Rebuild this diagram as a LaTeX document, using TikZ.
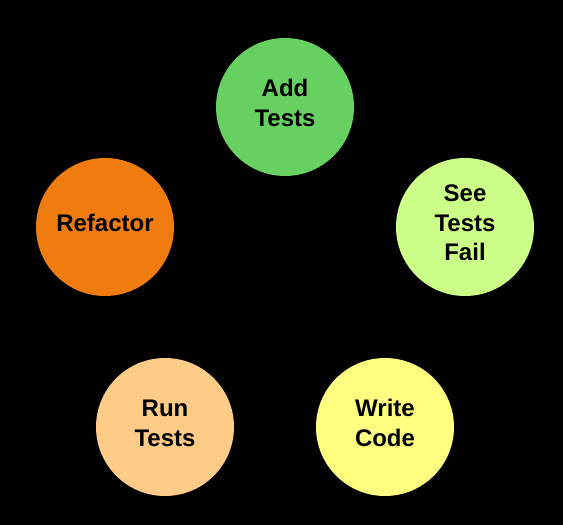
\documentclass[tikz,border=0pt]{standalone}
\usepackage{fontspec}
\setmainfont{Liberation Sans}
\usepackage{xcolor}
\definecolor{stepGreen}{HTML}{66D060}
\definecolor{stepLime}{HTML}{CCFF88}
\definecolor{stepYellow}{HTML}{FFFF80}
\definecolor{stepPeach}{HTML}{FFCC88}
\definecolor{stepOrange}{HTML}{F07C10}
\usepackage{tikz}

\begin{document}
\begin{tikzpicture}[
    x=1pt, y=-1pt,
    stage/.style ={circle, minimum size=138pt, inner sep=0pt,
                   align=center, text=black, text depth=8pt,
                   font=\fontsize{24}{29.5}\selectfont\bfseries}
]
\fill[black] (0,0) rectangle (563,525);
\useasboundingbox (0,0) rectangle (563,525);

\node[stage, fill=stepGreen]  (addtests) at (285,107) {Add\\Tests};
\node[stage, fill=stepLime]   (seefail)  at (465,227) {See\\Tests\\Fail};
\node[stage, fill=stepYellow] (write)    at (385,427) {Write\\Code};
\node[stage, fill=stepPeach]  (runtests) at (165,427) {Run\\Tests};
\node[stage, fill=stepOrange] (refactor) at (105,227) {Refactor};
\end{tikzpicture}
\end{document}
